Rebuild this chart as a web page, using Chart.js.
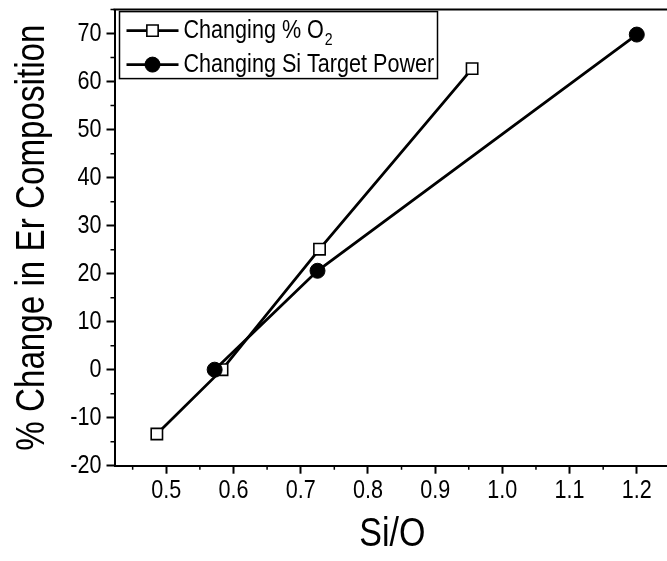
<!DOCTYPE html>
<html>
<head>
<meta charset="utf-8">
<script src="https://cdn.jsdelivr.net/npm/chart.js@4"></script>
<style>
  html, body { margin: 0; padding: 0; background: #fff; overflow: hidden; }
</style>
</head>
<body>
<canvas id="myChart" width="680" height="561"></canvas>
<script>
// values
const o2X = [0.486, 0.583, 0.728, 0.955];
const o2Y = [-13.4, 0, 25.1, 62.7];
const siX = [0.572, 0.725, 1.2];
const siY = [0, 20.6, 69.8];

const xTicks = [0.5, 0.6, 0.7, 0.8, 0.9, 1.0, 1.1, 1.2];
const xTickLabels = ['0.5', '0.6', '0.7', '0.8', '0.9', '1.0', '1.1', '1.2'];
const yTicks = [-20, -10, 0, 10, 20, 30, 40, 50, 60, 70];
const yTickLabels = ['-20', '-10', '0', '10', '20', '30', '40', '50', '60', '70'];

const FONT = "'Liberation Sans', Arial, Helvetica, sans-serif";

const canvas = document.getElementById('myChart');
const c2d = canvas.getContext('2d');

// no narrow font installed, so squeeze the text horizontally (Arial Narrow look)
const SX = 0.83;
const rawFill = c2d.fillText.bind(c2d);
const rawMeasure = c2d.measureText.bind(c2d);
c2d.fillText = function (text, x, y, maxWidth) {
  this.save();
  this.translate(x, y);
  this.scale(SX, 1);
  rawFill(text, 0, 0);
  this.restore();
};
c2d.measureText = function (text) {
  const m = rawMeasure(text);
  return {
    width: m.width * SX,
    actualBoundingBoxAscent: m.actualBoundingBoxAscent,
    actualBoundingBoxDescent: m.actualBoundingBoxDescent,
    actualBoundingBoxLeft: m.actualBoundingBoxLeft * SX,
    actualBoundingBoxRight: m.actualBoundingBoxRight * SX
  };
};

const pts = (xs, ys) => xs.map((x, i) => ({ x: x, y: ys[i] }));

// minor ticks halfway between the major ones
const minors = (arr) => {
  const step = arr[1] - arr[0];
  const out = [arr[0] - step / 2];
  for (let i = 0; i < arr.length - 1; i++) out.push((arr[i] + arr[i + 1]) / 2);
  out.push(arr[arr.length - 1] + step / 2);
  return out;
};

const framePlugin = {
  id: 'frame',
  afterDraw(chart) {
    const { ctx, chartArea: a, scales } = chart;
    ctx.save();
    ctx.strokeStyle = '#000';
    ctx.lineWidth = 2;
    // top border of the box
    ctx.beginPath();
    ctx.moveTo(a.left - 1, a.top);
    ctx.lineTo(a.right, a.top);
    ctx.stroke();
    // minor ticks
    ctx.lineWidth = 1.5;
    ctx.beginPath();
    minors(xTicks).forEach(v => {
      if (v < scales.x.min || v > scales.x.max) return;
      const px = scales.x.getPixelForValue(v);
      ctx.moveTo(px, a.bottom);
      ctx.lineTo(px, a.bottom + 4);
    });
    minors(yTicks).forEach(v => {
      if (v < scales.y.min || v > scales.y.max) return;
      const py = scales.y.getPixelForValue(v);
      ctx.moveTo(a.left, py);
      ctx.lineTo(a.left - 4, py);
    });
    ctx.stroke();

    // legend box
    const bx = a.left + 5, by = a.top + 2, bw = 318, bh = 67;
    ctx.lineWidth = 1.5;
    ctx.fillStyle = '#fff';
    ctx.fillRect(bx, by, bw, bh);
    ctx.strokeRect(bx, by, bw, bh);
    const rows = [by + 19, by + 53];
    chart.data.datasets.forEach((ds, i) => {
      const y = rows[i];
      ctx.strokeStyle = '#000';
      ctx.lineWidth = ds.borderWidth;
      ctx.beginPath();
      ctx.moveTo(bx + 7, y);
      ctx.lineTo(bx + 59, y);
      ctx.stroke();
      ctx.fillStyle = ds.pointBackgroundColor;
      ctx.strokeStyle = ds.pointBorderColor;
      ctx.lineWidth = ds.pointBorderWidth;
      Chart.helpers.drawPoint(ctx, {
        pointStyle: ds.pointStyle,
        radius: ds.pointRadius,
        borderWidth: ds.pointBorderWidth
      }, bx + 33, y);
      ctx.fillStyle = '#000';
      ctx.font = '26px ' + FONT;
      ctx.textBaseline = 'middle';
      ctx.textAlign = 'left';
      ctx.fillText(ds.legendText, bx + 64, y);
      if (ds.legendSub) {
        const w = ctx.measureText(ds.legendText).width;
        ctx.font = '17px ' + FONT;
        ctx.fillText(ds.legendSub, bx + 64 + w + 1, y + 10);
      }
    });
    ctx.restore();
  }
};

new Chart(canvas, {
  type: 'scatter',
  data: {
    datasets: [{
      label: 'Changing % O₂',
      legendText: 'Changing % O',
      legendSub: '2',
      data: pts(o2X, o2Y),
      showLine: true,
      borderColor: '#000',
      borderWidth: 2.8,
      pointStyle: 'rect',
      pointRadius: 8,
      pointBackgroundColor: '#fff',
      pointBorderColor: '#000',
      pointBorderWidth: 1.6,
      order: 1
    }, {
      label: 'Changing Si Target Power',
      legendText: 'Changing Si Target Power',
      data: pts(siX, siY),
      showLine: true,
      borderColor: '#000',
      borderWidth: 2.8,
      pointStyle: 'circle',
      pointRadius: 7.5,
      pointBackgroundColor: '#000',
      pointBorderColor: '#000',
      pointBorderWidth: 1,
      order: 0
    }]
  },
  options: {
    responsive: false,
    animation: false,
    devicePixelRatio: 1,
    layout: { padding: { top: 8, right: 8, bottom: 0, left: 0 } },
    plugins: {
      legend: { display: false },
      tooltip: { enabled: false }
    },
    scales: {
      x: {
        type: 'linear',
        min: 0.423,
        max: 1.25,
        afterBuildTicks: (scale) => { scale.ticks = xTicks.map(v => ({ value: v })); },
        afterFit: (scale) => { scale.height = 95.3; scale.paddingLeft = 0; scale.paddingRight = 0; },
        border: { display: true, color: '#000', width: 2 },
        grid: { display: true, drawOnChartArea: false, drawTicks: true, tickLength: 8, tickWidth: 2, tickColor: '#000' },
        ticks: {
          color: '#000',
          padding: 2,
          maxRotation: 0,
          font: { family: FONT, size: 26 },
          callback: (value, index) => xTickLabels[index]
        },
        title: {
          display: true,
          text: 'Si/O',
          color: '#000',
          font: { family: FONT, size: 41 },
          padding: { top: 0, bottom: 2 }
        }
      },
      y: {
        type: 'linear',
        min: -20,
        max: 75,
        afterBuildTicks: (scale) => { scale.ticks = yTicks.map(v => ({ value: v })); },
        afterFit: (scale) => { scale.width = 114.5; scale.paddingTop = 0; scale.paddingBottom = 0; },
        border: { display: true, color: '#000', width: 2 },
        grid: { display: true, drawOnChartArea: false, drawTicks: true, tickLength: 8, tickWidth: 2, tickColor: '#000' },
        ticks: {
          color: '#000',
          padding: 5,
          font: { family: FONT, size: 26 },
          callback: (value, index) => yTickLabels[index]
        },
        title: {
          display: true,
          text: '% Change in Er Composition',
          color: '#000',
          font: { family: FONT, size: 40 },
          padding: { top: 9, bottom: 0 }
        }
      }
    }
  },
  plugins: [framePlugin]
});
</script>
</body>
</html>
